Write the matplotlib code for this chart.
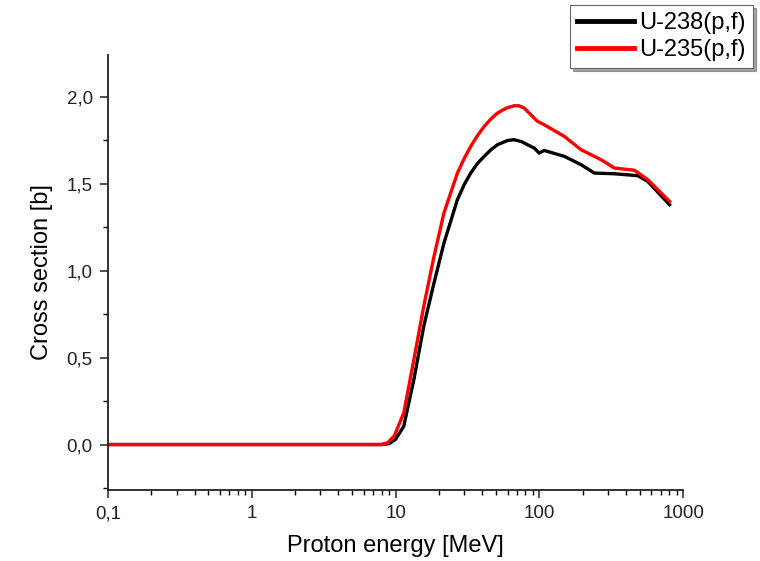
import numpy as np
import matplotlib.pyplot as plt
from matplotlib.ticker import FixedLocator, MultipleLocator, LogLocator, NullFormatter

plt.rcParams['font.family'] = ['Liberation Sans', 'DejaVu Sans']

# U-238(p,f)
e_238 = [0.1, 1, 5, 8.0, 9.0, 10.0, 11.4, 13.4, 15.7, 18.5, 21.7, 26.9, 30.0, 33.3, 37.0, 41.3,
         46.0, 51.1, 60.0, 66.7, 75.0, 82.6, 92, 99.7, 108, 149, 195, 241, 332, 483, 567, 803]
s_238 = [0, 0, 0, 0, 0.005, 0.03, 0.105, 0.374, 0.68, 0.929, 1.159, 1.408, 1.495, 1.561, 1.615, 1.657,
         1.695, 1.724, 1.748, 1.753, 1.742, 1.724, 1.705, 1.676, 1.691, 1.657, 1.609, 1.561, 1.557,
         1.546, 1.513, 1.379]

# U-235(p,f)
e_235 = [0.1, 1, 5, 7.9, 8.8, 9.8, 11.4, 13.4, 15.7, 18.5, 21.7, 26.9, 30.0, 33.3, 37.0, 41.3,
         46.0, 51.1, 59.0, 66.7, 72.0, 78.3, 97, 108, 149, 195, 268, 332, 458, 567, 803]
s_235 = [0, 0, 0, 0, 0.01, 0.05, 0.182, 0.488, 0.795, 1.082, 1.332, 1.561, 1.645, 1.714, 1.775, 1.829,
         1.872, 1.906, 1.935, 1.948, 1.948, 1.935, 1.858, 1.839, 1.772, 1.695, 1.638, 1.59, 1.577,
         1.523, 1.398]

fig = plt.figure(figsize=(7.6, 5.61), dpi=100)
ax = fig.add_axes([0.142, 0.127, 0.757, 0.775])

ax.plot(e_238, s_238, color='black', lw=2.4, label='U-238(p,f)', solid_joinstyle='round')
ax.plot(e_235, s_235, color='red', lw=2.4, label='U-235(p,f)', solid_joinstyle='round')

ax.set_xscale('log')
ax.set_xlim(0.1, 1000)
ax.set_ylim(-0.26, 2.24)

ax.xaxis.set_major_locator(FixedLocator([0.1, 1, 10, 100, 1000]))
ax.set_xticklabels(['0,1', '1', '10', '100', '1000'])
ax.xaxis.set_minor_locator(LogLocator(base=10, subs=np.arange(2, 10)))
ax.xaxis.set_minor_formatter(NullFormatter())

ax.yaxis.set_major_locator(FixedLocator([0, 0.5, 1.0, 1.5, 2.0]))
ax.set_yticklabels(['0,0', '0,5', '1,0', '1,5', '2,0'])
ax.yaxis.set_minor_locator(MultipleLocator(0.25))

for s in ['top', 'right']:
    ax.spines[s].set_visible(False)
for s in ['left', 'bottom']:
    ax.spines[s].set_linewidth(1.3)
    ax.spines[s].set_color('#222222')

ax.tick_params(which='major', direction='out', length=6, width=1.1, labelsize=13.5,
               colors='#222222', pad=5)
ax.tick_params(which='minor', direction='out', length=3.5, width=1.0)

ax.set_xlabel('Proton energy [MeV]', fontsize=17, labelpad=9)
ax.set_ylabel('Cross section [b]', fontsize=17, labelpad=10)

leg = fig.legend(loc='upper right', bbox_to_anchor=(0.991, 0.991), fontsize=17,
                 fancybox=False, shadow=True, handlelength=2.4, borderpad=0.3,
                 labelspacing=0.2, handletextpad=0.25, borderaxespad=0)
leg.get_frame().set_edgecolor('#666666')
leg.get_frame().set_linewidth(0.8)
for line in leg.get_lines():
    line.set_linewidth(3.5)

fig.savefig('out.png', dpi=100)
